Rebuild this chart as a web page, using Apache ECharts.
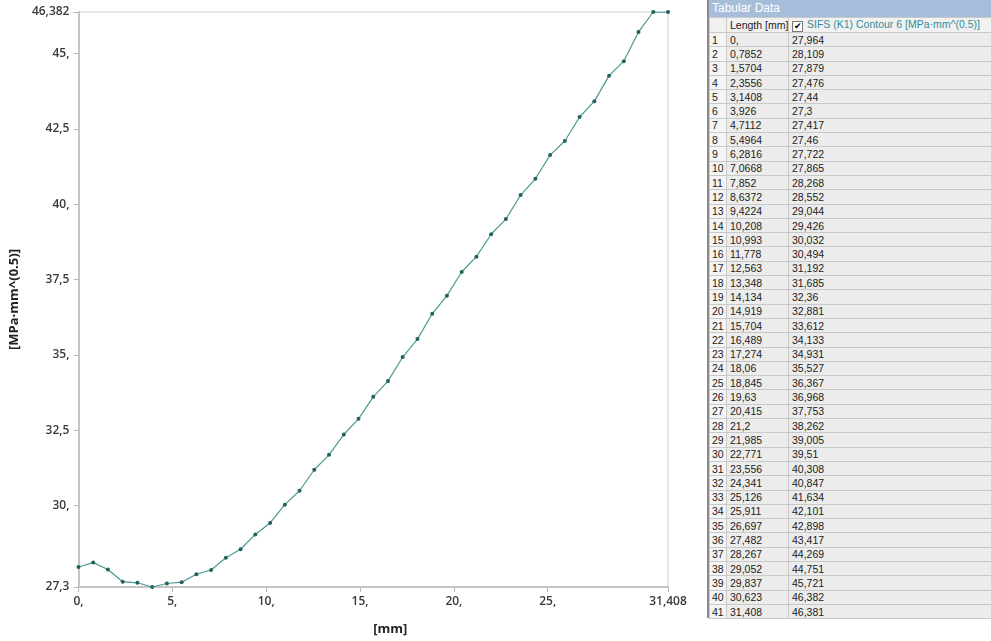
<!DOCTYPE html>
<html>
<head>
<meta charset="utf-8">
<script src="https://cdn.jsdelivr.net/npm/echarts@6/dist/echarts.min.js"></script>
<style>
  html, body { margin: 0; padding: 0; background: #fff; }
  #chart { position: absolute; left: 0; top: 0; width: 705px; height: 641px; }
  #panel { position: absolute; left: 707px; top: 0; width: 284px; height: 618px;
           border-left: 2px solid #8a8a8a; background: #ececec; font-family: "Liberation Sans", Arial, sans-serif; }
  #panel .title { height: 17px; line-height: 17px; background: #a7bedb; color: #fff; font-size: 12px; padding-left: 3px; }
  #panel table { border-collapse: collapse; width: 100%; table-layout: fixed; font-size: 10.5px; color: #222; }
  #panel td { height: 13.3px; padding: 0 0 0 3px; border: 1px solid #c9c9c9; white-space: nowrap; overflow: hidden; line-height: 12px; }
  #panel tr.head td { background: #f1f1f1; height: 14px; }
  #panel td.idx { background: #f4f4f4; padding-left: 2px; }
  #panel .sifs { color: #2f8f9a; }
  #panel .chk { display: inline-block; width: 9px; height: 9px; border: 1px solid #777; background: #fff;
                font-size: 9px; line-height: 9px; text-align: center; margin-right: 4px; color: #000; vertical-align: -1px; }
</style>
</head>
<body>
<div id="chart"></div>
<div id="panel">
  <div class="title">Tabular Data</div>
  <table id="tab">
    <colgroup><col style="width:17px"><col style="width:62px"><col></colgroup>
  </table>
</div>
<script>
// Length along crack front [mm]
var lengths = [0, 0.7852, 1.5704, 2.3556, 3.1408, 3.926, 4.7112, 5.4964, 6.2816, 7.0668,
  7.852, 8.6372, 9.4224, 10.208, 10.993, 11.778, 12.563, 13.348, 14.134, 14.919,
  15.704, 16.489, 17.274, 18.06, 18.845, 19.63, 20.415, 21.2, 21.985, 22.771,
  23.556, 24.341, 25.126, 25.911, 26.697, 27.482, 28.267, 29.052, 29.837, 30.623, 31.408];
// SIFS (K1) Contour 6 [MPa·mm^(0.5)]
var sifs = [27.964, 28.109, 27.879, 27.476, 27.44, 27.3, 27.417, 27.46, 27.722, 27.865,
  28.268, 28.552, 29.044, 29.426, 30.032, 30.494, 31.192, 31.685, 32.36, 32.881,
  33.612, 34.133, 34.931, 35.527, 36.367, 36.968, 37.753, 38.262, 39.005, 39.51,
  40.308, 40.847, 41.634, 42.101, 42.898, 43.417, 44.269, 44.751, 45.721, 46.382, 46.381];
var xTicks = [0, 5, 10, 15, 20, 25, 31.408];
var yTicks = [27.3, 30, 32.5, 35, 37.5, 40, 42.5, 45, 46.382];

function fmt(v) {
  var s = String(v).replace('.', ',');
  if (s.indexOf(',') < 0) s += ',';
  return s;
}

// table
var tab = document.getElementById('tab');
var html = '<tr class="head"><td class="idx"></td><td>Length [mm]</td>' +
  '<td class="sifs"><span class="chk">&#10004;</span>SIFS (K1) Contour 6 [MPa·mm^(0.5)]</td></tr>';
for (var i = 0; i < lengths.length; i++) {
  html += '<tr><td class="idx">' + (i + 1) + '</td><td>' + fmt(lengths[i]) + '</td><td>' + fmt(sifs[i]) + '</td></tr>';
}
tab.insertAdjacentHTML('beforeend', html);

var chart = echarts.init(document.getElementById('chart'));
var labelStyle = { fontFamily: 'Open Sans', fontSize: 12, fontWeight: 600, color: '#3a3a3a' };
var option = {
  animation: false,
  grid: { left: 77, right: 37, top: 12, bottom: 52, show: true, borderColor: '#cccccc', borderWidth: 1 },
  xAxis: {
    type: 'value', min: 0, max: 31.408,
    name: '[mm]', nameLocation: 'middle', nameGap: 36,
    nameTextStyle: { fontFamily: 'Open Sans', fontSize: 13, fontWeight: 'bold', color: '#222', padding: [0, 0, 0, 34] },
    axisLine: { lineStyle: { color: '#c4c4c4', width: 2 } },
    axisTick: { show: true, length: 5, customValues: xTicks, lineStyle: { color: '#b8b8b8' } },
    axisLabel: Object.assign({ customValues: xTicks, margin: 9, formatter: fmt }, labelStyle),
    splitLine: { show: false }
  },
  yAxis: {
    type: 'value', min: 27.3, max: 46.382,
    name: '[MPa·mm^(0.5)]', nameLocation: 'middle', nameGap: 54, nameRotate: 90,
    nameTextStyle: { fontFamily: 'Open Sans', fontSize: 13, fontWeight: 'bold', color: '#222' },
    axisLine: { show: true, lineStyle: { color: '#c4c4c4', width: 2 } },
    axisTick: { show: true, length: 5, customValues: yTicks, lineStyle: { color: '#b8b8b8' } },
    axisLabel: Object.assign({ customValues: yTicks, margin: 9, formatter: fmt }, labelStyle),
    splitLine: { show: false }
  },
  series: [{
    type: 'line',
    data: lengths.map(function (x, i) { return [x, sifs[i]]; }),
    symbol: 'circle', symbolSize: 4,
    lineStyle: { color: '#4a9a93', width: 1.2 },
    itemStyle: { color: '#23615c' }
  }]
};
chart.setOption(option);
</script>
</body>
</html>
